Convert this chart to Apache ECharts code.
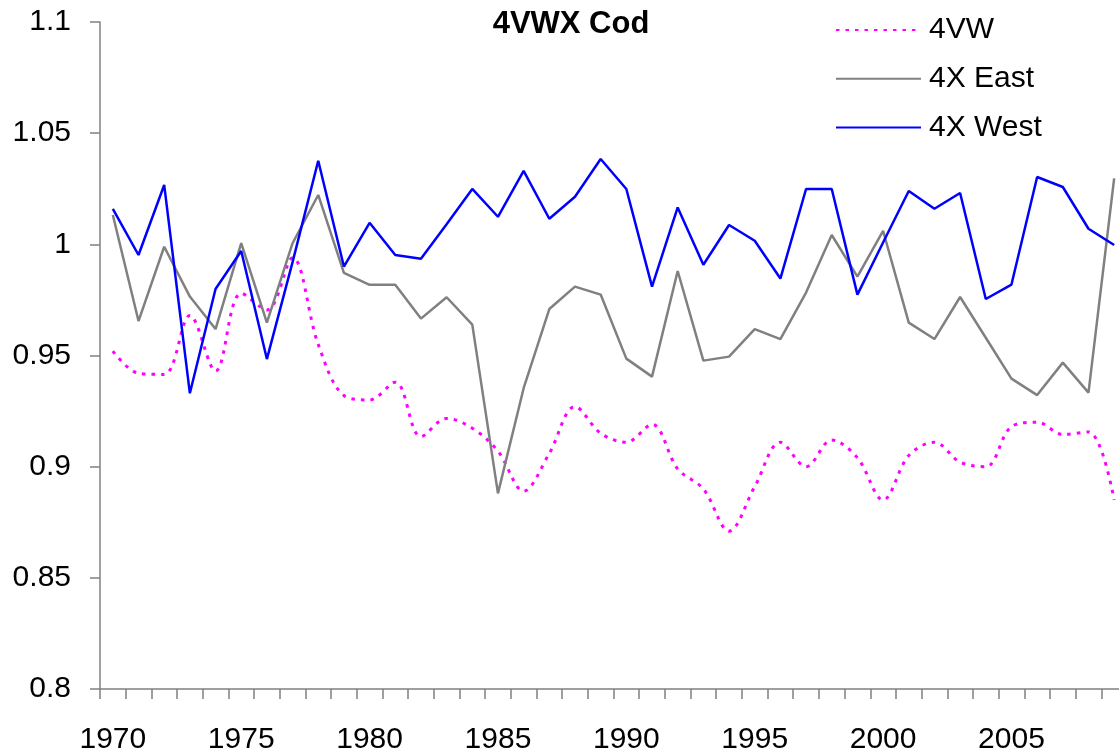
<!DOCTYPE html>
<html>
<head>
<meta charset="utf-8">
<script src="https://cdn.jsdelivr.net/npm/echarts@6/dist/echarts.min.js"></script>
<style>html,body{margin:0;padding:0;background:#fff;}#c{width:1119px;height:752px;}</style>
</head>
<body>
<div id="c"></div>
<script>
const years = [];
for (let y = 1970; y <= 2009; y++) years.push(String(y));

const s4VW = [0.952,0.942,0.9415,0.968,0.943,0.978,0.9705,0.994,0.955,0.932,0.930,0.938,0.9135,0.9217,0.9173,0.907,0.889,0.906,0.927,0.915,0.911,0.919,0.899,0.890,0.871,0.891,0.911,0.900,0.912,0.904,0.885,0.905,0.911,0.902,0.900,0.918,0.920,0.9145,0.9156,0.885];
const s4XEast = [1.0132,0.9655,0.9989,0.9765,0.9619,1.0005,0.9648,1.0005,1.0222,0.9872,0.9818,0.9818,0.9666,0.9762,0.9639,0.888,0.9353,0.9709,0.981,0.9774,0.9486,0.9405,0.988,0.9477,0.9495,0.9619,0.9574,0.9783,1.0042,0.9855,1.0061,0.9648,0.9574,0.9763,0.958,0.9396,0.9322,0.9468,0.9333,1.0297];
const s4XWest = [1.0159,0.9952,1.0267,0.933,0.9799,0.997,0.9484,0.992,1.0376,0.990,1.0097,0.9952,0.9935,1.009,1.0249,1.0124,1.033,1.0115,1.0214,1.0384,1.0249,0.981,1.0166,0.9908,1.0087,1.0016,0.9846,1.0249,1.0249,0.9774,1.0008,1.024,1.016,1.0231,0.9754,0.9819,1.0303,1.0258,1.007,0.9997];
const seriesNames = ['4VW', '4X East', '4X West'];
const titleText = '4VWX Cod';

const FONT = '"Liberation Sans", Arial, sans-serif';
const chart = echarts.init(document.getElementById('c'), null, {renderer: 'canvas'});
chart.setOption({
  animation: false,
  backgroundColor: '#ffffff',
  graphic: [{
    type: 'text', x: 571, y: 24,
    style: {text: titleText, font: 'bold 31px ' + FONT, fill: '#000', textAlign: 'center', textVerticalAlign: 'middle'}
  }],
  legend: {
    orient: 'vertical', left: 830, top: 10,
    itemWidth: 85, itemHeight: 14, itemGap: 18.8,
    data: seriesNames,
    itemStyle: {opacity: 0},
    textStyle: {fontFamily: FONT, fontSize: 30, color: '#000', lineHeight: 30, padding: [0,0,0,3]}
  },
  grid: {left: 100, top: 22, width: 1027, height: 667, outerBoundsMode: 'none', containLabel: false},
  xAxis: {
    type: 'category', data: years, boundaryGap: true,
    axisLine: {show: true, lineStyle: {color: '#808080', width: 1.5}},
    axisTick: {show: true, interval: 0, length: 10, alignWithLabel: false, lineStyle: {color: '#808080', width: 1.5}},
    axisLabel: {interval: 4, margin: 36, fontFamily: FONT, fontSize: 30, color: '#000'},
    splitLine: {show: false}
  },
  yAxis: {
    type: 'value', min: 0.8, max: 1.1, interval: 0.05,
    axisLine: {show: true, lineStyle: {color: '#808080', width: 1.5}},
    axisTick: {show: true, length: 10, lineStyle: {color: '#808080', width: 1.5}},
    axisLabel: {margin: 29, fontFamily: FONT, fontSize: 30, color: '#000'},
    splitLine: {show: false}
  },
  series: [
    {name: seriesNames[0], type: 'line', data: s4VW, symbol: 'none', smooth: 0.35,
     lineStyle: {color: '#ff00ff', width: 3, type: [3.5, 6]}, itemStyle: {color: '#ff00ff'}},
    {name: seriesNames[1], type: 'line', data: s4XEast, symbol: 'none',
     lineStyle: {color: '#808080', width: 2.5}, itemStyle: {color: '#808080'}},
    {name: seriesNames[2], type: 'line', data: s4XWest, symbol: 'none',
     lineStyle: {color: '#0000ff', width: 2.5}, itemStyle: {color: '#0000ff'}}
  ]
});
</script>
</body>
</html>
